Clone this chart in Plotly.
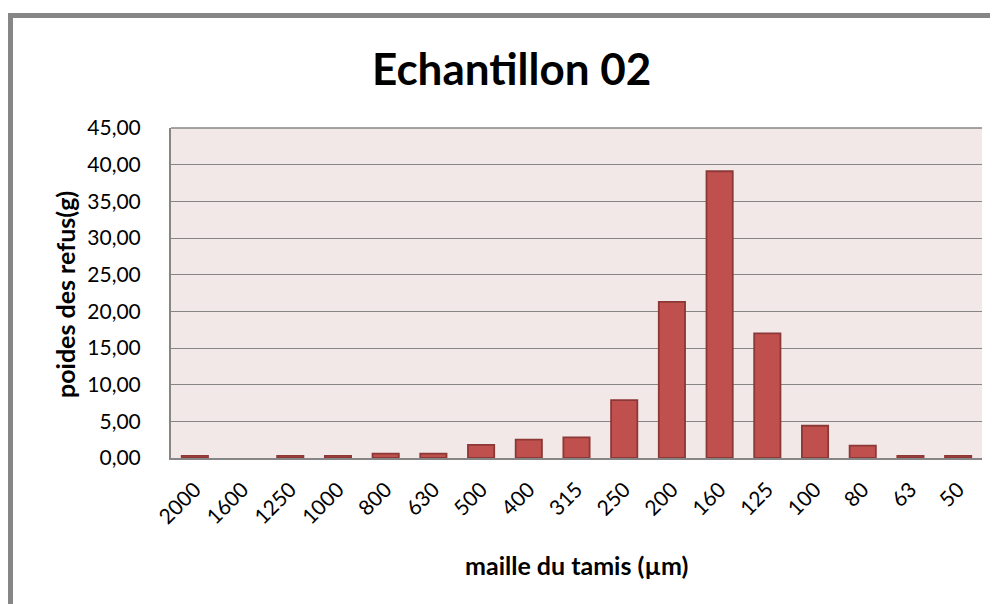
import plotly.graph_objects as go

categories = ["2000", "1600", "1250", "1000", "800", "630", "500", "400", "315",
              "250", "200", "160", "125", "100", "80", "63", "50"]
values = [0.3, 0.0, 0.3, 0.3, 0.6, 0.6, 1.8, 2.5, 2.8,
          7.9, 21.3, 39.1, 17.0, 4.4, 1.7, 0.3, 0.3]
y_ticks = [0, 5, 10, 15, 20, 25, 30, 35, 40, 45]

FONT = "Lato, Carlito, 'Liberation Sans', sans-serif"
GRAY = "#868686"

fig = go.Figure()
fig.add_trace(go.Bar(
    x=categories, y=values,
    marker=dict(color="#c0504d",
                line=dict(color="#8c3836", width=[1.8 if v > 0 else 0 for v in values])),
))

# page body has an 8px margin; work in screen pixels and shift
OFF = 8
W, H = 998 - OFF, 604 - OFF
PL, PR, PT, PB = 171, 982, 128, 458  # plot area in screen px
L, R, T, B = PL - OFF, W - (PR - OFF), PT - OFF, H - (PB - OFF)
pw, ph = PR - PL, PB - PT

def px_x(p):
    return (p - PL) / pw

def px_y(p):
    return (PB - p) / ph

fig.update_layout(
    width=W, height=H,
    margin=dict(l=L, r=R, t=T, b=B, autoexpand=False),
    paper_bgcolor="white",
    plot_bgcolor="#f2e8e8",
    separators=", ",
    bargap=0.45,
    showlegend=False,
    font=dict(family=FONT, color="black"),
    xaxis=dict(
        type="category", tickangle=-45, tickfont=dict(size=21),
        showline=True, linecolor=GRAY, linewidth=2, showgrid=False,
        ticks="", automargin=False, ticklabelstandoff=9,
    ),
    yaxis=dict(
        range=[0, 45], tickvals=y_ticks, tickformat=".2f", tickfont=dict(size=21),
        showline=True, linecolor=GRAY, linewidth=2,
        showgrid=True, gridcolor=GRAY, gridwidth=1.3, zeroline=False,
        ticks="", ticklabelstandoff=24, automargin=False,
    ),
    annotations=[
        dict(text="<b>Echantillon 02</b>", xref="paper", yref="paper",
             x=px_x(511), y=px_y(68), xanchor="center", yanchor="middle",
             showarrow=False, font=dict(size=44)),
        dict(text="<b>maille du tamis (µm)</b>", xref="paper", yref="paper",
             x=px_x(576), y=px_y(565), xanchor="center", yanchor="middle",
             showarrow=False, font=dict(size=25)),
        dict(text="<b>poides des refus(g)</b>", xref="paper", yref="paper",
             x=px_x(65), y=px_y(295), xanchor="center", yanchor="middle",
             textangle=-90, showarrow=False, font=dict(size=25)),
    ],
    shapes=[
        dict(type="rect", xref="paper", yref="paper",
             x0=px_x(10.5), y0=px_y(700), x1=px_x(1100), y1=px_y(15.5),
             line=dict(color=GRAY, width=5), fillcolor="rgba(0,0,0,0)", layer="below"),
        dict(type="line", xref="paper", yref="paper",
             x0=0, x1=1, y0=1, y1=1, line=dict(color=GRAY, width=1.3)),
    ],
)

fig.write_html("out.html")
